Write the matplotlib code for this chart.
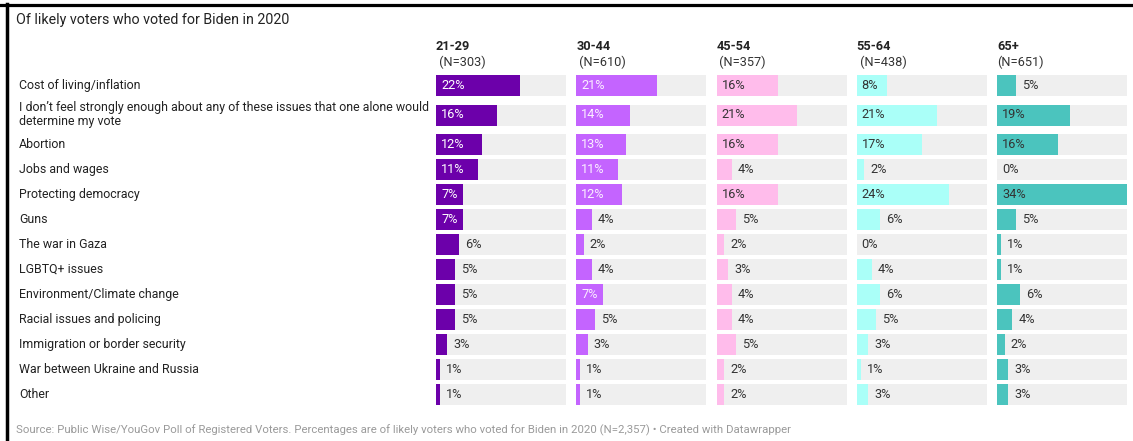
import matplotlib
import matplotlib.pyplot as plt
from matplotlib.lines import Line2D
from matplotlib.transforms import blended_transform_factory
matplotlib.use('Agg')

plt.rcParams['font.family'] = ['Roboto', 'DejaVu Sans']

issues = [
    'Cost of living/inflation',
    'I don\u2019t feel strongly enough about any of these issues that one alone would\ndetermine my vote',
    'Abortion',
    'Jobs and wages',
    'Protecting democracy',
    'Guns',
    'The war in Gaza',
    'LGBTQ+ issues',
    'Environment/Climate change',
    'Racial issues and policing',
    'Immigration or border security',
    'War between Ukraine and Russia',
    'Other',
]
age_groups = ['21-29', '30-44', '45-54', '55-64', '65+']
sample_sizes = [' (N=303)', ' (N=610)', ' (N=357)', ' (N=438)', '(N=651)']
share_21_29 = [22, 16, 12, 11, 7, 7, 6, 5, 5, 5, 3, 1, 1]
share_30_44 = [21, 14, 13, 11, 12, 4, 2, 4, 7, 5, 3, 1, 1]
share_45_54 = [16, 21, 16, 4, 16, 5, 2, 3, 4, 4, 5, 2, 2]
share_55_64 = [8, 21, 17, 2, 24, 6, 0, 4, 6, 5, 3, 1, 3]
share_65_plus = [5, 19, 16, 0, 34, 5, 1, 1, 6, 4, 2, 3, 3]
shares = [share_21_29, share_30_44, share_45_54, share_55_64, share_65_plus]

bar_colors = ['#6c00aa', '#c464ff', '#ffbceb', '#aafff8', '#4bc4be']
inside_text = ['#ffffff', '#fbeeff', '#333333', '#333333', '#333333']
track_color = '#efefef'
x_max = 34
inside_min = 7

# row heights in pixels; the wrapped label gets a taller row
row_heights = [25, 34] + [25] * 11
row_centers = []
acc = 0
for h in row_heights:
    row_centers.append(acc + h / 2)
    acc += h
total_h = acc

W, H = 1133, 441
fig = plt.figure(figsize=(W / 100, H / 100), dpi=100)
fig.patch.set_facecolor('white')

top_px = 73
col_left0 = 436
col_step = 140.25
col_width = 130
val_size = 9.2

axes = []
for i, (group, n, vals) in enumerate(zip(age_groups, sample_sizes, shares)):
    left = col_left0 + i * col_step
    ax = fig.add_axes([left / W, 1 - (top_px + total_h) / H, col_width / W, total_h / H])
    ax.set_xlim(0, x_max)
    ax.set_ylim(total_h, 0)
    ax.axis('off')
    ax.barh(row_centers, [x_max] * len(vals), height=21, color=track_color, linewidth=0)
    ax.barh(row_centers, vals, height=21, color=bar_colors[i], linewidth=0)
    for y, v in zip(row_centers, vals):
        label = f'{v}%'
        if v >= inside_min:
            ax.annotate(label, (0, y), xytext=(5, 0), textcoords='offset pixels',
                        va='center', ha='left', fontsize=val_size, color=inside_text[i])
        elif v == 0:
            ax.annotate(label, (0, y), xytext=(5, 0), textcoords='offset pixels',
                        va='center', ha='left', fontsize=val_size, color='#333333')
        else:
            ax.annotate(label, (v, y), xytext=(6, 0), textcoords='offset pixels',
                        va='center', ha='left', fontsize=val_size, color='#333333')
    head = blended_transform_factory(ax.transAxes, fig.transFigure)
    ax.text(0, 1 - 47 / H, group, transform=head, fontsize=9.2, fontweight='bold',
            color='#222222', va='center', ha='left')
    ax.text(0, 1 - 62 / H, n, transform=head, fontsize=9.2,
            color='#333333', va='center', ha='left')
    axes.append(ax)

# issue names down the left side
label_tf = blended_transform_factory(fig.transFigure, axes[0].transData)
for y, name in zip(row_centers, issues):
    axes[0].text(19 / W, y, name, transform=label_tf, fontsize=8.9, color='#222222',
                 va='center', ha='left', linespacing=1.1)

fig.text(16 / W, 1 - 20 / H, 'Of likely voters who voted for Biden in 2020',
         fontsize=10.3, color='#222222', va='center', ha='left')
fig.text(16 / W, 1 - 430 / H,
         'Source: Public Wise/YouGov Poll of Registered Voters. Percentages are of likely voters '
         'who voted for Biden in 2020 (N=2,357) \u2022 Created with Datawrapper',
         fontsize=8.2, color='#9a9a9a', va='center', ha='left')

# black frame on top and left
fig.add_artist(Line2D([0, 1], [1 - 5 / H, 1 - 5 / H], transform=fig.transFigure,
                      color='black', linewidth=2.3))
fig.add_artist(Line2D([6.5 / W, 6.5 / W], [0, 1 - 4 / H], transform=fig.transFigure,
                      color='black', linewidth=2.5))

fig.savefig('out.png', dpi=100)
